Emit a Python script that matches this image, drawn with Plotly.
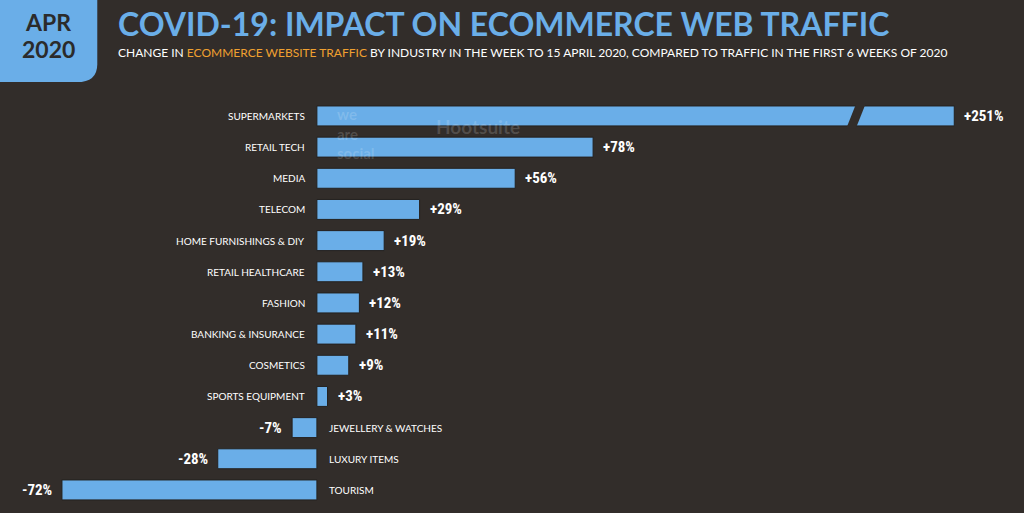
import plotly.graph_objects as go

# data
industries = ['SUPERMARKETS', 'RETAIL TECH', 'MEDIA', 'TELECOM', 'HOME FURNISHINGS & DIY',
              'RETAIL HEALTHCARE', 'FASHION', 'BANKING & INSURANCE', 'COSMETICS',
              'SPORTS EQUIPMENT', 'JEWELLERY & WATCHES', 'LUXURY ITEMS', 'TOURISM']
change = [251, 78, 56, 29, 19, 13, 12, 11, 9, 3, -7, -28, -72]

# supermarkets bar is drawn with an axis break
cap = 180
shown = [min(v, cap) for v in change]
rows = list(range(len(industries)))

BG = '#322d2a'
BLUE = '#6aaee8'

fig = go.Figure()
fig.add_trace(go.Bar(x=shown, y=rows, orientation='h', width=0.64,
                     marker=dict(color=BLUE, line=dict(color='#24211f', width=1)),
                     hoverinfo='skip'))

for r, name, v, s in zip(rows, industries, change, shown):
    lab = f'+{v}%' if v > 0 else f'{v}%'
    if v >= 0:
        fig.add_annotation(x=0, y=r, text=name, xanchor='right', xshift=-10, showarrow=False,
                           font=dict(size=10, color='white', family='Lato'))
        fig.add_annotation(x=s, y=r, text='<b>' + lab + '</b>', xanchor='left', xshift=8, showarrow=False,
                           font=dict(size=15, color='white', family='Roboto Condensed, Roboto'))
    else:
        fig.add_annotation(x=0, y=r, text=name, xanchor='left', xshift=10, showarrow=False,
                           font=dict(size=10, color='white', family='Lato'))
        fig.add_annotation(x=s, y=r, text='<b>' + lab + '</b>', xanchor='right', xshift=-8, showarrow=False,
                           font=dict(size=15, color='white', family='Roboto Condensed, Roboto'))

# axis break mark on supermarkets
bx = shown[0] - 29
fig.add_shape(type='path', path=f'M {bx-1.5},0.4 L {bx+1.2},0.4 L {bx+4},-0.4 L {bx+1.3},-0.4 Z',
              fillcolor=BG, line=dict(width=0), layer='above')

# header box
fig.add_shape(type='path', xref='paper', yref='paper',
              path='M 0,1 L 0.095,1 L 0.095,0.875 Q 0.095,0.84 0.075,0.84 L 0,0.84 Z',
              fillcolor=BLUE, line=dict(width=0))
fig.add_annotation(xref='paper', yref='paper', x=0.047, y=0.957, xanchor='center', yanchor='middle',
                   showarrow=False, text='<b>APR</b>', font=dict(size=23, color='#2b2b2b', family='Lato'))
fig.add_annotation(xref='paper', yref='paper', x=0.047, y=0.905, xanchor='center', yanchor='middle',
                   showarrow=False, text='<b>2020</b>', font=dict(size=23, color='#2b2b2b', family='Lato'))
fig.add_annotation(xref='paper', yref='paper', x=0.113, y=0.955, xanchor='left', yanchor='middle',
                   showarrow=False, text='<b>COVID-19: IMPACT ON ECOMMERCE WEB TRAFFIC</b>',
                   font=dict(size=32, color=BLUE, family='Lato'))
fig.add_annotation(xref='paper', yref='paper', x=0.113, y=0.898, xanchor='left', yanchor='middle',
                   showarrow=False,
                   text="CHANGE IN <span style='color:#f0a030'>ECOMMERCE WEBSITE TRAFFIC</span> BY INDUSTRY IN THE WEEK TO 15 APRIL 2020, COMPARED TO TRAFFIC IN THE FIRST 6 WEEKS OF 2020",
                   font=dict(size=12, color='white', family='Lato'))
# faint watermark
fig.add_annotation(x=5, y=0.55, text='<b>we<br>are<br>social</b>', xanchor='left', yanchor='middle',
                   showarrow=False, font=dict(size=15, color='rgba(255,255,255,0.16)', family='Lato',
                                              lineposition='none'),
                   align='left')
fig.add_annotation(x=33, y=0.35, text='<b>Hootsuite</b>', xanchor='left', yanchor='middle', showarrow=False,
                   font=dict(size=19, color='rgba(255,255,255,0.16)', family='Lato'))

fig.update_xaxes(range=[-89.5, 199.7], visible=False, fixedrange=True)
fig.update_yaxes(range=[12.74, -3.72], visible=False, fixedrange=True)
fig.update_layout(width=1024, height=513, margin=dict(l=0, r=0, t=0, b=0),
                  paper_bgcolor=BG, plot_bgcolor=BG, showlegend=False)
fig.write_html('out.html', config={'displayModeBar': False})

# drop the default page margin so the figure fills the window
with open('out.html') as f:
    page = f.read()
page = page.replace('<body>', '<body style="margin:0;background:#322d2a">', 1)
with open('out.html', 'w') as f:
    f.write(page)
